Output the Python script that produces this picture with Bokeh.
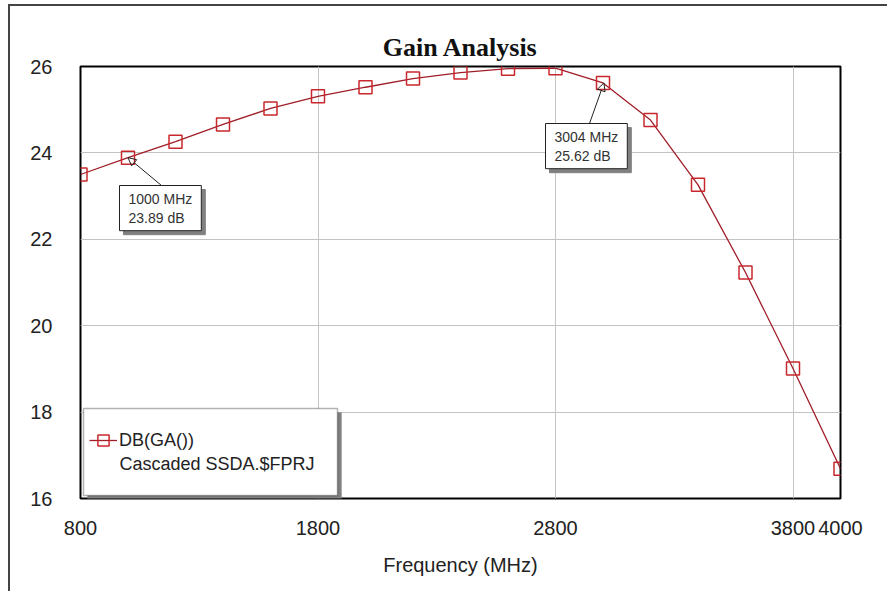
from bokeh.plotting import figure
from bokeh.models import (FixedTicker, Legend, LegendItem, Label, BoxAnnotation,
                          Arrow, NormalHead, Range1d)
from bokeh.embed import file_html
from bokeh.resources import INLINE

# ---- data ----
freq_mhz = [800, 1000, 1200, 1400, 1600, 1800, 2000, 2200, 2400, 2600,
            2800, 3000, 3200, 3400, 3600, 3800, 4000]
gain_db = [23.50, 23.89, 24.26, 24.66, 25.03, 25.31, 25.52, 25.72, 25.86, 25.95,
           25.96, 25.62, 24.76, 23.26, 21.23, 19.01, 16.69]
x_ticks = [800, 1800, 2800, 3800, 4000]
y_ticks = [16, 18, 20, 22, 24, 26]
title_text = "Gain Analysis"
x_label = "Frequency (MHz)"
legend_line1 = "DB(GA())"
legend_line2 = "Cascaded SSDA.$FPRJ"
marker_freqs = [1000, 3004]
marker_gains = [23.89, 25.62]
marker_texts = ["1000 MHz\n23.89 dB", "3004 MHz\n25.62 dB"]

FONT = "Liberation Sans"
X0, X1, Y0, Y1 = 800, 4000, 16, 26
FRAME_W, FRAME_H = 760, 432

p = figure(width=879, height=587, output_backend="svg", toolbar_location=None,
           x_range=Range1d(X0, X1), y_range=Range1d(Y0, Y1),
           min_border_left=70, min_border_right=49, min_border_top=60,
           min_border_bottom=95, title=title_text)
p.styles = {"border-top": "2px solid #444444", "border-left": "2px solid #444444",
            "margin-left": "8px", "margin-top": "4px"}
p.background_fill_color = "white"
p.border_fill_color = "white"
p.outline_line_color = "black"
p.outline_line_width = 2

p.title.text_font = "Liberation Serif"
p.title.text_font_style = "bold"
p.title.text_font_size = "26px"
p.title.text_color = "#111111"
p.title.align = "center"
p.title.standoff = 9

for ax in (p.xaxis[0], p.yaxis[0]):
    ax.axis_line_color = None
    ax.major_tick_line_color = None
    ax.minor_tick_line_color = None
    ax.major_label_text_font = FONT
    ax.major_label_text_font_size = "20px"
    ax.major_label_text_color = "#222222"

p.xaxis.ticker = FixedTicker(ticks=x_ticks)
p.yaxis.ticker = FixedTicker(ticks=y_ticks)
p.xaxis.major_label_standoff = 16
p.yaxis.major_label_standoff = 22
p.xaxis.axis_label = x_label
p.xaxis.axis_label_text_font = FONT
p.xaxis.axis_label_text_font_size = "20px"
p.xaxis.axis_label_text_font_style = "normal"
p.xaxis.axis_label_text_color = "#222222"
p.xaxis.axis_label_standoff = 16

p.xgrid.grid_line_color = "#c4c4c4"
p.ygrid.grid_line_color = "#c4c4c4"
p.xgrid.grid_line_width = 1
p.ygrid.grid_line_width = 1

line_r = p.line(freq_mhz, gain_db, line_color="#a01e28", line_width=1.3)
sc_r = p.scatter(freq_mhz, gain_db, marker="square", size=13, fill_alpha=0,
                 line_color="#c8282d", line_width=1.5)

# callouts
box_pos = [(39, 313), (465, 375)]
lead_pos = [(81, 313), (509, 375)]
for (bx, by), (lx, ly), fx, gy in zip(box_pos, lead_pos, marker_freqs, marker_gains):
    p.add_layout(Arrow(end=NormalHead(size=8, fill_alpha=0, line_color="#222222", line_width=1),
                       x_start=lx, y_start=ly, start_units="screen",
                       x_end=fx, y_end=gy, end_units="data",
                       line_color="#222222", line_width=1))
for (bx, by), txt in zip(box_pos, marker_texts):
    p.add_layout(Label(x=bx + 4, y=by - 4, x_units="screen", y_units="screen", text=txt,
                       anchor="top_left", text_align="left", text_baseline="top",
                       text_font=FONT, text_font_size="14px", text_color="#808080",
                       background_fill_color="#808080", border_line_color="#808080",
                       padding=dict(left=9, right=9, top=5, bottom=5)))
    p.add_layout(Label(x=bx, y=by, x_units="screen", y_units="screen", text=txt,
                       anchor="top_left", text_align="left", text_baseline="top",
                       text_font=FONT, text_font_size="14px", text_color="#333333",
                       background_fill_color="white", border_line_color="#222222",
                       border_line_width=1,
                       padding=dict(left=9, right=9, top=5, bottom=5)))

# legend box + shadow (pixel offsets converted to data units)
kx = (X1 - X0) / FRAME_W
ky = (Y1 - Y0) / FRAME_H
p.add_layout(BoxAnnotation(left=X0 + 7 * kx, right=X0 + 261 * kx,
                           bottom=Y0 - 1 * ky, top=Y0 + 86 * ky,
                           fill_color="#808080", fill_alpha=1, line_color="#808080",
                           line_width=1))
p.add_layout(BoxAnnotation(left=X0 + 3 * kx, right=X0 + 257 * kx,
                           bottom=Y0 + 3 * ky, top=Y0 + 90 * ky,
                           fill_color="white", fill_alpha=1, line_color="black",
                           line_width=1.5))

legend = Legend(items=[LegendItem(label=legend_line1, renderers=[line_r, sc_r])],
                location=(9, 43), margin=0, padding=0, spacing=0,
                glyph_width=28, glyph_height=30, label_standoff=2,
                label_height=30,
                label_text_font=FONT, label_text_font_size="18px",
                label_text_color="#222222",
                border_line_alpha=0, background_fill_alpha=0)
p.add_layout(legend, "center")
p.add_layout(Label(x=39, y=35, x_units="screen", y_units="screen", text=legend_line2,
                   text_align="left", text_baseline="middle",
                   text_font=FONT, text_font_size="18px", text_color="#222222"))

open("out.html", "w").write(file_html(p, INLINE))
